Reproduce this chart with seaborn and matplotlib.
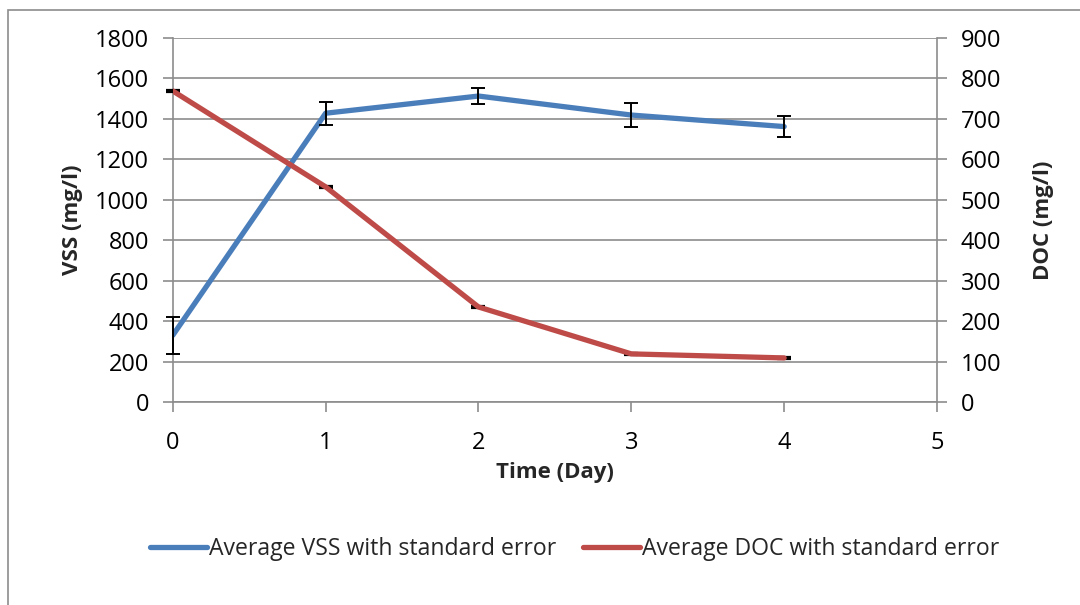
import matplotlib
matplotlib.use("Agg")
import matplotlib.pyplot as plt
from matplotlib.patches import Rectangle
from matplotlib.lines import Line2D
import seaborn as sns
import pandas as pd

# Data
days = [0, 1, 2, 3, 4]
vss_mean = [330, 1428, 1513, 1419, 1362]
vss_se = [92, 57, 40, 60, 54]
doc_mean = [769, 532, 235, 119, 109]
doc_se = [3, 3, 2, 2, 2]

blue = "#4A7EBB"
red = "#BE4B48"
grid_c = "#8C8C8C"

sns.set_theme(style="white")
plt.rcParams["font.family"] = ["Open Sans", "DejaVu Sans"]

fig = plt.figure(figsize=(10.8, 6.05), dpi=100)
ax = fig.add_axes([0.160, 0.3355, 0.7076, 0.6017])
ax2 = ax.twinx()

vss_df = pd.DataFrame({"Day": days, "VSS": vss_mean})
doc_df = pd.DataFrame({"Day": days, "DOC": doc_mean})

sns.lineplot(data=vss_df, x="Day", y="VSS", ax=ax, color=blue, linewidth=3.8,
             zorder=3)
ax.errorbar(days, vss_mean, yerr=vss_se, fmt="none", ecolor="black",
            elinewidth=1.4, capsize=5, capthick=1.4, zorder=4, clip_on=False)

# DOC error bars sit under the line; only the cap ends peek out
ax2.errorbar(days, doc_mean, yerr=doc_se, fmt="none", ecolor="black",
             elinewidth=1.4, capsize=5, capthick=1.6, zorder=2, clip_on=False)
sns.lineplot(data=doc_df, x="Day", y="DOC", ax=ax2, color=red, linewidth=3.8,
             zorder=3)

ax.set_xlim(0, 5)
ax.set_ylim(0, 1800)
ax2.set_ylim(0, 900)
ax.set_xticks(range(0, 6))
ax.set_yticks(range(0, 1801, 200))
ax2.set_yticks(range(0, 901, 100))

ax.yaxis.grid(True, color=grid_c, linewidth=1.2)
ax.set_axisbelow(True)

# Each axes keeps only its own spines so the overlay does not hide error bars
ax.spines["top"].set_visible(False)
ax.spines["right"].set_visible(False)
ax2.spines["top"].set_visible(False)
ax2.spines["left"].set_visible(False)
ax2.spines["bottom"].set_visible(False)
for s in ("left", "bottom"):
    ax.spines[s].set_color(grid_c)
    ax.spines[s].set_linewidth(1.2)
    ax.spines[s].set_zorder(1)
ax2.spines["right"].set_color(grid_c)
ax2.spines["right"].set_linewidth(1.2)

for a in (ax, ax2):
    a.tick_params(axis="both", which="both", length=7, width=1.2,
                  color=grid_c, labelsize=17, labelcolor="black", pad=10)
ax.tick_params(axis="y", left=True)
ax.tick_params(axis="x", bottom=True, pad=14)
ax2.tick_params(axis="y", right=True, pad=10)

ax.set_xlabel("Time (Day)", fontsize=16, fontweight="bold", labelpad=5)
ax.set_ylabel("VSS (mg/l)", fontsize=16, fontweight="bold", labelpad=9)
ax2.set_ylabel("DOC (mg/l)", fontsize=16, fontweight="bold", labelpad=23)

handles = [Line2D([], [], color=blue, linewidth=3.8),
           Line2D([], [], color=red, linewidth=3.8)]
fig.legend(handles, ["Average VSS with standard error",
                     "Average DOC with standard error"],
           loc="center", bbox_to_anchor=(0.532, 0.093), ncol=2, frameon=False,
           fontsize=16.6, handlelength=2.5, handletextpad=0.08,
           columnspacing=1.15)

# Chart frame
fig.patches.append(Rectangle((0.0074, -0.1), 1.1, 1.0835, transform=fig.transFigure,
                             fill=False, edgecolor="#8C8C8C", linewidth=1.2))

fig.savefig("out.png", dpi=100)
